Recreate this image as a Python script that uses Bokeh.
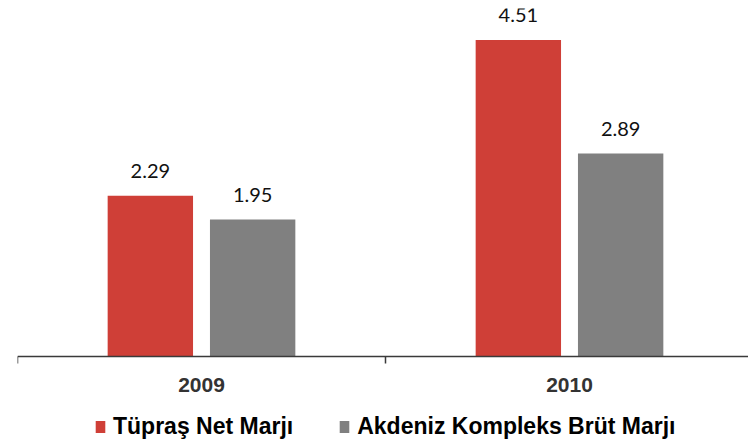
from bokeh.plotting import figure
from bokeh.models import ColumnDataSource, FixedTicker, Range1d, Legend, LegendItem
from bokeh.transform import dodge
from bokeh.core.properties import value
from bokeh.embed import file_html
from bokeh.resources import INLINE

years = ["2009", "2010"]
tupras = [2.29, 4.51]
akdeniz = [1.95, 2.89]
series_names = ["Tüpraş Net Marjı", "Akdeniz Kompleks Brüt Marjı"]
colors = ["#CF3F37", "#808080"]

xc = [i + 0.5 for i in range(len(years))]
src = ColumnDataSource(dict(
    x=xc, tupras=tupras, akdeniz=akdeniz,
    tupras_lbl=[f"{v:.2f}" for v in tupras],
    akdeniz_lbl=[f"{v:.2f}" for v in akdeniz],
))

PX = 70.2  # pixels per unit
p = figure(frame_width=731, frame_height=438, output_backend="svg", toolbar_location=None,
           x_range=Range1d(0, 731 / 368), y_range=Range1d(-90 / PX, 348 / PX),
           min_border_left=17, min_border_right=0, min_border_top=8, min_border_bottom=0,
           outline_line_color=None)
p.yaxis.visible = False
p.xgrid.visible = False
p.ygrid.visible = False

off = 0.139
w = 0.232
r1 = p.vbar(x=dodge("x", -off), top="tupras", width=w, bottom=0, source=src,
            fill_color=colors[0], line_color=None)
r2 = p.vbar(x=dodge("x", off), top="akdeniz", width=w, bottom=0, source=src,
            fill_color=colors[1], line_color=None)

for col, o in (("tupras", -off), ("akdeniz", off)):
    p.text(x=dodge("x", o), y=col, text=col + "_lbl", source=src,
           text_align="center", text_baseline="alphabetic", y_offset=-25,
           text_font=value("Lato"), text_font_size="20px", text_color="#111111")

ax = p.xaxis[0]
ax.fixed_location = 0
ax.ticker = FixedTicker(ticks=xc, minor_ticks=list(range(len(years) + 1)))
ax.major_label_overrides = {x: y for x, y in zip(xc, years)}
ax.major_tick_line_color = None
ax.major_tick_out = 0
ax.major_tick_in = 0
ax.minor_tick_out = 7
ax.minor_tick_in = 0
ax.minor_tick_line_color = "#3a3a3a"
ax.minor_tick_line_width = 1.5
ax.axis_line_color = "#3a3a3a"
ax.axis_line_width = 1.5
ax.major_label_standoff = 14
ax.major_label_text_font = "Liberation Sans"
ax.major_label_text_font_style = "bold"
ax.major_label_text_font_size = "21px"
ax.major_label_text_color = "#333333"

legend = Legend(items=[LegendItem(label=series_names[0], renderers=[r1]),
                       LegendItem(label=series_names[1], renderers=[r2])],
                orientation="horizontal", location=(77, 6),
                label_text_font="Liberation Sans", label_text_font_style="bold",
                label_text_font_size="23px", label_text_color="#000000",
                glyph_width=12, glyph_height=15, label_standoff=7, spacing=45,
                padding=0, margin=0, border_line_color=None, background_fill_alpha=0)
p.add_layout(legend, "center")

open("out.html", "w").write(file_html(p, INLINE))
